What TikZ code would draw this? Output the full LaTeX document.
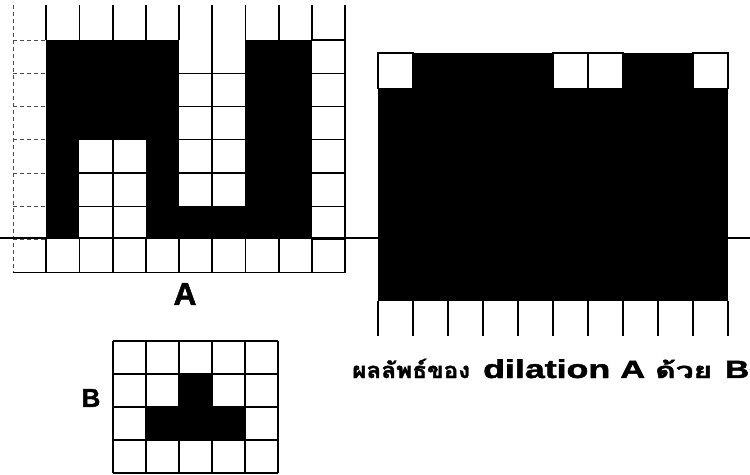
\documentclass[tikz,border=0pt]{standalone}
\usepackage{fontspec}
\setmainfont{Liberation Sans}
\newfontfamily\heavy[FakeBold=1.6]{Liberation Sans}
\newfontfamily\thaiheavy[Script=Thai,FakeBold=1.6]{Loma}
\begin{document}
\begin{tikzpicture}[x=1bp,y=-1bp,
  vline/.style={line width=1.8bp},
  hline/.style={line width=1.1bp},
  faint/.style={line width=0.7bp,dash pattern=on 4bp off 3bp,black!70},
  lbl/.style={inner sep=0pt}]
\useasboundingbox (0,0) rectangle (750,475);
% ---------- grid A (10 x 8) ----------
\def\ax{13}\def\adx{33.2}\def\ay{40}\def\ady{33.25}
\fill (\ax+\adx,\ay) rectangle (\ax+9*\adx,\ay+6*\ady);
\fill[white] (\ax+2*\adx,\ay+3*\ady) rectangle (\ax+4*\adx,\ay+6*\ady);
\fill[white] (\ax+5*\adx,\ay) rectangle (\ax+7*\adx,\ay+5*\ady);
\foreach \r in {0,...,7}{
  \draw[faint] (\ax,\ay+\r*\ady) -- (\ax+\adx,\ay+\r*\ady);
  \draw[hline] (\ax+9*\adx,\ay+\r*\ady) -- (\ax+10*\adx,\ay+\r*\ady);
}
\draw[hline] (\ax+\adx,\ay+7*\ady) -- (\ax+9*\adx,\ay+7*\ady);
\foreach \r in {4,5}{\draw[hline] (\ax+2*\adx,\ay+\r*\ady) -- (\ax+4*\adx,\ay+\r*\ady);}
\foreach \r in {1,...,4}{\draw[hline] (\ax+5*\adx,\ay+\r*\ady) -- (\ax+7*\adx,\ay+\r*\ady);}
\draw[faint] (\ax,5) -- (\ax,\ay+7*\ady);
\foreach \c in {1,...,9}{\draw[vline] (\ax+\c*\adx,5) -- (\ax+\c*\adx,\ay);}
\foreach \c in {1,...,9}{\draw[vline] (\ax+\c*\adx,\ay+6*\ady) -- (\ax+\c*\adx,\ay+7*\ady);}
\draw[vline] (\ax+10*\adx,5) -- (\ax+10*\adx,\ay+7*\ady);
\draw[vline] (\ax+3*\adx,\ay+3*\ady) -- (\ax+3*\adx,\ay+6*\ady);
\draw[vline] (\ax+6*\adx,\ay) -- (\ax+6*\adx,\ay+5*\ady);
\draw[hline] (\ax,\ay+7*\ady) -- (\ax+10*\adx,\ay+7*\ady);
% ---------- result grid (10 x 8) ----------
\def\rx{378}\def\rdx{35}\def\ry{53}\def\rdy{35.4}
\fill (\rx,\ry) rectangle (\rx+10*\rdx,\ry+7*\rdy);
\foreach \c in {0,5,6,9}{
  \draw[hline,fill=white] (\rx+\c*\rdx,\ry) rectangle (\rx+\c*\rdx+\rdx,\ry+\rdy);}
\foreach \c in {0,...,10}{
  \draw[vline] (\rx+\c*\rdx,\ry+7*\rdy) -- (\rx+\c*\rdx,\ry+8*\rdy);}
% long horizontal rule
\draw[line width=1.3bp] (0,238) -- (750,238);
% ---------- grid B (5 x 4) ----------
\def\bx{113}\def\bdx{33}\def\by{341}\def\bdy{33}
\fill (\bx+2*\bdx,\by+\bdy) rectangle (\bx+3*\bdx,\by+2*\bdy);
\fill (\bx+\bdx,\by+2*\bdy) rectangle (\bx+4*\bdx,\by+3*\bdy);
\foreach \r in {0,...,4}{\draw[hline] (\bx,\by+\r*\bdy) -- (\bx+5*\bdx,\by+\r*\bdy);}
\foreach \c in {0,...,5}{\draw[vline] (\bx+\c*\bdx,\by) -- (\bx+\c*\bdx,\by+4*\bdy);}
% ---------- labels ----------
\node[lbl,font=\heavy\bfseries\fontsize{32}{32}\selectfont] (labA) at (185,294) {A};
\node[lbl,font=\heavy\bfseries\fontsize{26}{26}\selectfont] (labB) at (91,398) {B};
\node[lbl,anchor=base west,font=\thaiheavy\bfseries\fontsize{22}{22}\selectfont] (t1) at (352,378)
  {\resizebox{118bp}{\height}{ผลลัพธ์ของ}};
\node[lbl,anchor=base west,font=\heavy\bfseries\fontsize{26}{26}\selectfont] (t2) at (483,378)
  {\resizebox{127bp}{\height}{dilation}};
\node[lbl,anchor=base west,font=\heavy\bfseries\fontsize{25}{25}\selectfont] (t3) at (620,378)
  {\resizebox{25bp}{\height}{A}};
\node[lbl,anchor=base west,font=\thaiheavy\bfseries\fontsize{22}{22}\selectfont] (t4) at (655,378)
  {\resizebox{57bp}{\height}{ด้วย}};
\node[lbl,anchor=base west,font=\heavy\bfseries\fontsize{25}{25}\selectfont] (t5) at (725,378)
  {\resizebox{24bp}{\height}{B}};
\end{tikzpicture}
\end{document}
